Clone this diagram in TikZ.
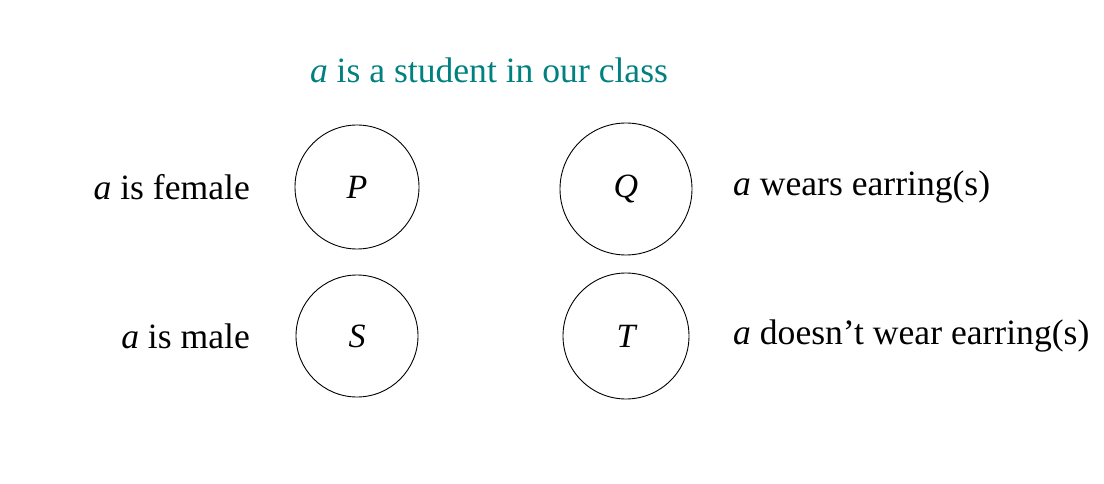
\documentclass[tikz,border=0pt]{standalone}
\usepackage{fontspec}
\setmainfont{Liberation Serif}
\definecolor{tealc}{RGB}{0,128,128}
\tikzset{
  setc/.style={draw, circle, line width=0.9pt, inner sep=0pt, font=\fontsize{34}{40}\selectfont\itshape},
  lab/.style={inner sep=0pt, font=\fontsize{35.6}{42}\selectfont}
}
\begin{document}
\begin{tikzpicture}[x=1pt,y=-1pt]
\useasboundingbox (0,0) rectangle (1104,484);
\node[lab, text=tealc] (title) at (489,70) {\textit{a} is a student in our class};
\node[setc, minimum size=124pt] (P) at (357,187) {P};
\node[setc, minimum size=132pt] (Q) at (626,189) {Q};
\node[setc, minimum size=122pt] (S) at (357,336) {S};
\node[setc, minimum size=126pt] (T) at (626,336) {T};
\node[lab, anchor=east] (lP) at (250,187) {\textit{a} is female};
\node[lab, anchor=east] (lS) at (250,336) {\textit{a} is male};
\node[lab, anchor=west] (lQ) at (733,187) {\textit{a} wears earring(s)};
\node[lab, anchor=west] (lT) at (733,336) {\textit{a} doesn’t wear earring(s)};
\end{tikzpicture}
\end{document}
